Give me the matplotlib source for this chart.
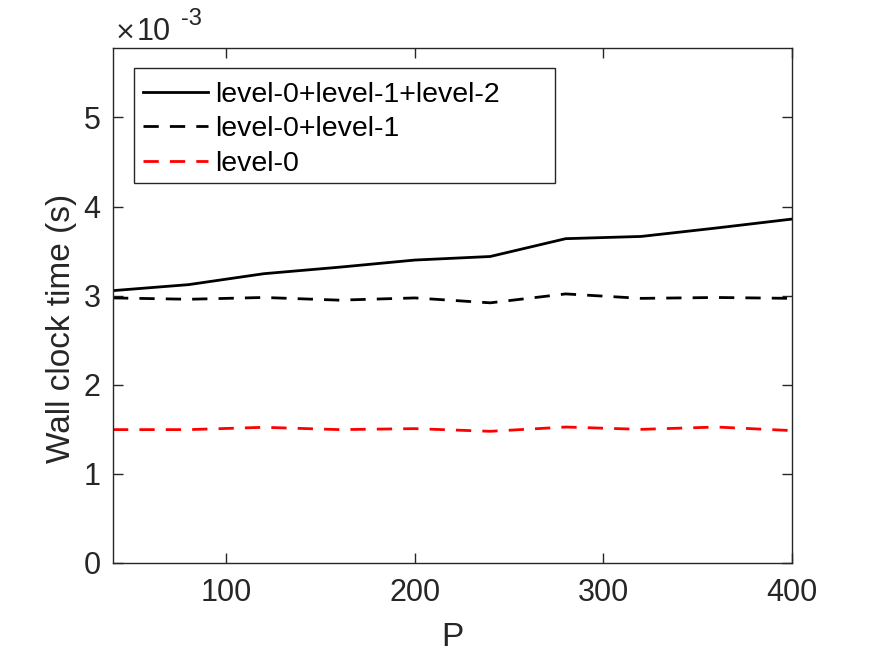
import numpy as np
import matplotlib
matplotlib.use("Agg")
import matplotlib.pyplot as plt
from matplotlib.patches import Rectangle
from matplotlib.ticker import FuncFormatter

plt.rcParams['font.family'] = ['Liberation Sans', 'DejaVu Sans']

# data (seconds)
P = [40, 80, 120, 160, 200, 240, 280, 320, 360, 400]
t_l012 = [3.057e-3, 3.124e-3, 3.247e-3, 3.32e-3, 3.40e-3, 3.44e-3, 3.64e-3, 3.665e-3, 3.76e-3, 3.86e-3]
t_l01 = [2.975e-3, 2.96e-3, 2.98e-3, 2.95e-3, 2.975e-3, 2.92e-3, 3.02e-3, 2.97e-3, 2.98e-3, 2.97e-3]
t_l0 = [1.497e-3, 1.497e-3, 1.523e-3, 1.497e-3, 1.508e-3, 1.478e-3, 1.526e-3, 1.50e-3, 1.526e-3, 1.486e-3]
labels = ['level-0+level-1+level-2', 'level-0+level-1', 'level-0']

W, H = 875, 657
fig = plt.figure(figsize=(W / 100, H / 100), dpi=100)
# axes box in pixels: left 113, right 792, top 48, bottom 563
ax = fig.add_axes([113 / W, 1 - 563 / H, (792 - 113) / W, (563 - 48) / H])

dash = (0, (5.5, 4))
ax.plot(P, t_l012, color='k', lw=2, ls='-', label=labels[0])
ax.plot(P, t_l01, color='k', lw=2, ls=dash, label=labels[1])
ax.plot(P, t_l0, color='r', lw=2, ls=dash, label=labels[2])

ax.set_xlim(40, 400)
ax.set_ylim(0, 5.78e-3)
ax.set_xticks([100, 200, 300, 400])
ax.set_yticks(np.arange(0, 6) * 1e-3)
ax.yaxis.set_major_formatter(FuncFormatter(lambda v, pos: '%g' % round(v * 1e3, 6)))

axc = '#262626'
for s in ax.spines.values():
    s.set_color(axc)
    s.set_linewidth(1.0)
ax.tick_params(direction='in', length=7, width=1, colors=axc, labelcolor='#262626',
               labelsize=22, top=True, right=True)
ax.tick_params(axis='x', pad=11)
ax.tick_params(axis='y', pad=9)

ax.set_xlabel('P', fontsize=24, color='#262626')
ax.set_ylabel('Wall clock time (s)', fontsize=24, color='#262626')
ax.xaxis.set_label_coords(0.5, -0.115)
ax.yaxis.set_label_coords(-0.053, 0.455)

# MATLAB-style exponent label above the y axis
fig.text(115 / W, 1 - 40 / H, '\u00d7', fontsize=18, color='#262626', ha='left', va='baseline',
         family='DejaVu Sans')
fig.text(137 / W, 1 - 40 / H, '10', fontsize=22, color='#262626', ha='left', va='baseline')
fig.text(181 / W, 1 - 25 / H, '-3', fontsize=17, color='#262626', ha='left', va='baseline')

# legend: entries without frame, box drawn separately (MATLAB leaves extra room on the right)
ax.add_patch(Rectangle((134 / W, 1 - 183 / H), (555 - 134) / W, (183 - 68) / H,
                       transform=fig.transFigure, facecolor='white', edgecolor='#262626',
                       lw=1.0, zorder=4, clip_on=False))
leg = ax.legend(loc='upper left', bbox_to_anchor=(134 / W, 1 - 73 / H), bbox_transform=fig.transFigure,
                fontsize=20.5, frameon=False, handlelength=2.3, handletextpad=0.25,
                borderpad=0.3, labelspacing=0.3, borderaxespad=0)
leg.set_zorder(5)

fig.savefig('out.png', dpi=100)
